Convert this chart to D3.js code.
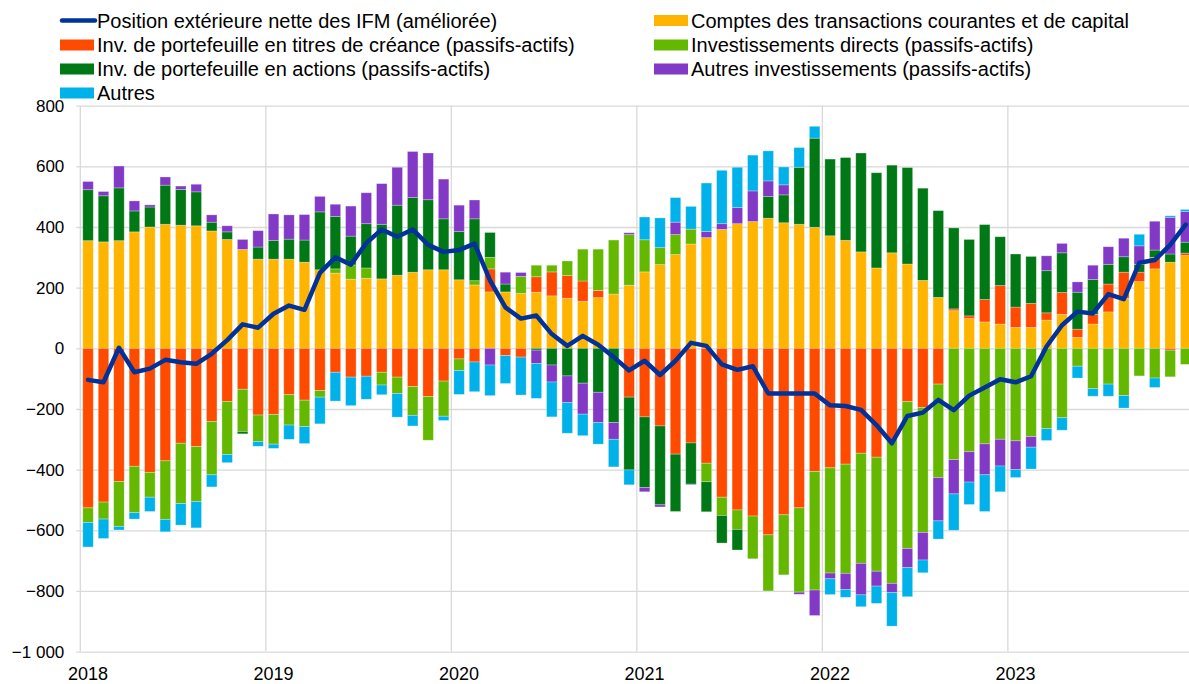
<!DOCTYPE html>
<html>
<head>
<meta charset="utf-8">
<script src="https://cdn.jsdelivr.net/npm/d3@7"></script>
<style>
    body { margin: 0; background: #fff; }
    #chart text { font-family: "Liberation Sans", Arial, sans-serif; fill: #000; }
</style>
</head>
<body>
<div id="chart"></div>
<script>

// months Jan 2018 - Dec 2023
const years = ['2018', '2019', '2020', '2021', '2022', '2023'];
const months = [];
years.forEach(y => { for (let m = 1; m <= 12; m++) months.push(y + '-' + String(m).padStart(2, '0')); });

// Comptes des transactions courantes et de capital
const currentAccount = [355, 351, 355, 384, 400, 409, 406, 404, 387, 359, 326, 294,
    294, 294, 284, 259, 248, 228, 231, 229, 241, 251, 259, 259,
    226, 209, 186, 186, 181, 185, 173, 165, 155, 167, 179, 208,
    252, 276, 309, 344, 365, 392, 411, 418, 429, 414, 409, 399,
    371, 356, 318, 265, 315, 278, 224, 168, 124, 98, 87, 80,
    69, 69, 93, 112, 36, 80, 120, 165, 220, 262, 284, 306];
// Inv. de portefeuille en titres de créance
const debtSecurities = [-526, -507, -439, -389, -409, -371, -313, -324, -241, -175, -135, -220,
    -218, -153, -171, -139, -79, -95, -92, -79, -95, -126, -159, -108,
    -35, -45, 76, -24, -29, 51, 79, 75, 67, 24, 0, -161,
    -226, -256, -349, -312, -379, -491, -533, -553, -615, -549, -526, -406,
    -394, -382, -346, -359, -302, -176, -195, -118, 6, 9, 74, 127,
    67, 79, 24, 72, 27, 32, 92, 86, 31, 38, -6, 8];
// Investissements directs
const directInv = [-48, -56, -148, -153, -82, -193, -199, -181, -176, -175, -139, -87,
    -98, -100, -87, -22, 14, 47, 34, -42, -54, -95, -144, -116,
    -38, 14, 38, 0, 56, 38, 22, 48, 105, 136, 178, 167,
    106, 56, 66, 49, -61, -60, -64, -141, -185, -198, -278, -391,
    -347, -360, -363, -376, -473, -484, -412, -308, -367, -341, -315, -300,
    -305, -291, -265, -229, -59, -133, -118, -156, -91, -98, -88, -53];
// Inv. de portefeuille en actions
const equity = [168, 152, 174, 69, 66, 129, 118, 112, 29, 25, -8, 40,
    62, 66, 73, 191, 173, 95, 146, 180, 231, 246, 231, 168,
    159, 204, 82, 26, 0, -6, -55, -91, -115, -145, -245, -240,
    -233, -260, -189, -136, -99, -91, -68, 0, 72, 92, 188, 294,
    253, 273, 326, 314, 289, 318, 304, 286, 267, 252, 247, 161,
    175, 155, 139, 131, 122, 115, 65, 51, 26, 24, 27, 36];
// Autres investissements
const otherInv = [27, 14, 72, 33, 7, 27, 11, 25, 24, 20, 33, 54,
    87, 80, 84, 51, 40, 99, 102, 134, 125, 152, 154, 131,
    87, 62, -55, 39, 13, -44, -56, -88, -102, -100, -55, 6,
    -14, -7, 41, -2, 20, 19, 53, 101, 51, 33, -7, -84,
    -19, -53, -104, -49, -30, -63, -91, -143, -113, -100, -102, -88,
    -95, -35, 49, 31, 34, 47, 58, 61, 61, 95, 121, 101];
// Autres
const others = [-81, -64, -12, -21, -47, -41, -71, -87, -40, -27, 0, -16,
    -14, -47, -56, -88, -95, -94, -76, -32, -78, -35, 0, -14,
    -79, -98, -101, -92, -125, -115, -115, -101, -71, -71, -91, -49,
    75, 98, 81, 75, 160, 176, 133, 118, 99, 59, 65, 39,
    -52, -26, -39, -57, -111, -96, -42, -60, -120, -74, -121, -85,
    -26, -72, -39, -41, -39, -25, -40, -41, 38, -31, 5, 7];
// Position extérieure nette des IFM (améliorée)
const mfiPosition = [-104, -112, 2, -79, -67, -38, -46, -51, -18, 27, 79, 68,
    114, 141, 127, 249, 300, 276, 347, 392, 368, 392, 341, 318,
    324, 345, 224, 135, 98, 108, 47, 8, 41, 12, -29, -73,
    -41, -88, -41, 18, 8, -53, -71, -59, -149, -149, -149, -149,
    -188, -190, -203, -253, -313, -223, -212, -170, -204, -156, -129, -102,
    -112, -92, 6, 76, 121, 115, 179, 162, 282, 291, 341, 408];

const yTicks = [800, 600, 400, 200, 0, -200, -400, -600, -800, -1000];

const seriesKeys = ['ca', 'debt', 'fdi', 'eq', 'oth', 'aut'];
const seriesLabels = {
    ca: 'Comptes des transactions courantes et de capital',
    debt: 'Inv. de portefeuille en titres de créance (passifs-actifs)',
    fdi: 'Investissements directs (passifs-actifs)',
    eq: 'Inv. de portefeuille en actions (passifs-actifs)',
    oth: 'Autres investissements (passifs-actifs)',
    aut: 'Autres'
};
const seriesColors = {
    ca: '#FFB400',
    debt: '#FF4B00',
    fdi: '#65B800',
    eq: '#007816',
    oth: '#8139C6',
    aut: '#00B1EA'
};
const lineLabel = 'Position extérieure nette des IFM (améliorée)';
const lineColor = '#003299';

class PositionChart {
    constructor(parentElement) {
        this.parentElement = parentElement;
        this.width = 1189;
        this.height = 684;
        // plot area in page pixels
        this.plot = {left: 80.3, right: 1193.4, top: 105.7, bottom: 651.6};
        this.initVis();
        this.wrangleData();
    }

    initVis() {
        let vis = this;

        vis.svg = d3.select(vis.parentElement)
            .append("svg")
            .attr("width", vis.width)
            .attr("height", vis.height);

        vis.x = d3.scaleBand()
            .domain(months)
            .range([vis.plot.left, vis.plot.right])
            .paddingInner(0.32)
            .paddingOuter(0.16);

        vis.y = d3.scaleLinear()
            .domain([-1000, 800])
            .range([vis.plot.bottom, vis.plot.top]);

        vis.gridG = vis.svg.append("g").attr("class", "grid");
        vis.barG = vis.svg.append("g").attr("class", "bars");
        vis.lineG = vis.svg.append("g").attr("class", "line");
        vis.axisG = vis.svg.append("g").attr("class", "axes");
        vis.legendG = vis.svg.append("g").attr("class", "legend");

        vis.drawGrid();
        vis.drawLegend();
    }

    drawGrid() {
        let vis = this;
        let step = vis.x.step();

        // horizontal grid lines + y labels
        let yAxis = d3.axisLeft(vis.y)
            .tickValues(yTicks)
            .tickSize(-(vis.plot.right - vis.plot.left) - 4)
            .tickPadding(12)
            .tickFormat(d => d3.format(",")(d).replace(/,/g, " "));

        vis.gridG.append("g")
            .attr("transform", `translate(${vis.plot.left - 4},0)`)
            .call(yAxis)
            .call(g => g.select(".domain").remove())
            .call(g => g.selectAll("line").attr("stroke", "#d9d9d9").attr("stroke-width", 1.3))
            .call(g => g.selectAll("text").style("font-size", "17px").attr("fill", "#000"));

        // vertical year lines
        vis.gridG.selectAll(".year-line")
            .data(years)
            .enter()
            .append("line")
            .attr("class", "year-line")
            .attr("x1", d => vis.x(d + '-01') - (step - vis.x.bandwidth()) / 2)
            .attr("x2", d => vis.x(d + '-01') - (step - vis.x.bandwidth()) / 2)
            .attr("y1", vis.plot.top)
            .attr("y2", vis.plot.bottom)
            .attr("stroke", "#d9d9d9")
            .attr("stroke-width", 1.3);

        // year labels under the January bar
        vis.axisG.selectAll(".year-label")
            .data(years)
            .enter()
            .append("text")
            .attr("class", "year-label")
            .attr("x", d => vis.x(d + '-01') + vis.x.bandwidth() / 2)
            .attr("y", 680)
            .attr("text-anchor", "middle")
            .style("font-size", "18px")
            .text(d => d);
    }

    drawLegend() {
        let vis = this;

        let items = [
            {key: 'line', label: lineLabel, col: 0, row: 0},
            {key: 'debt', label: seriesLabels.debt, col: 0, row: 1},
            {key: 'eq', label: seriesLabels.eq, col: 0, row: 2},
            {key: 'aut', label: seriesLabels.aut, col: 0, row: 3},
            {key: 'ca', label: seriesLabels.ca, col: 1, row: 0},
            {key: 'fdi', label: seriesLabels.fdi, col: 1, row: 1},
            {key: 'oth', label: seriesLabels.oth, col: 1, row: 2}
        ];
        let colX = [60, 654];
        let rowY = [20.5, 45, 69, 93];

        let g = vis.legendG.selectAll(".legend-item")
            .data(items)
            .enter()
            .append("g")
            .attr("class", "legend-item")
            .attr("transform", d => `translate(${colX[d.col]},${rowY[d.row]})`);

        g.filter(d => d.key === 'line')
            .append("line")
            .attr("x1", 2).attr("x2", 35)
            .attr("y1", 0).attr("y2", 0)
            .attr("stroke", lineColor)
            .attr("stroke-width", 4.5)
            .attr("stroke-linecap", "round");

        g.filter(d => d.key !== 'line')
            .append("rect")
            .attr("x", 0).attr("y", -5.5)
            .attr("width", 34).attr("height", 11)
            .attr("fill", d => seriesColors[d.key]);

        g.append("text")
            .attr("x", 37)
            .attr("y", 7)
            .style("font-size", "20px")
            .text(d => d.label);
    }

    wrangleData() {
        let vis = this;

        vis.table = months.map((m, i) => ({
            month: m,
            ca: currentAccount[i],
            debt: debtSecurities[i],
            fdi: directInv[i],
            eq: equity[i],
            oth: otherInv[i],
            aut: others[i],
            pos: mfiPosition[i]
        }));

        vis.stacked = d3.stack()
            .keys(seriesKeys)
            .offset(d3.stackOffsetDiverging)(vis.table);

        vis.updateVis();
    }

    updateVis() {
        let vis = this;

        let layers = vis.barG.selectAll(".layer")
            .data(vis.stacked)
            .enter()
            .append("g")
            .attr("class", "layer")
            .attr("fill", d => seriesColors[d.key]);

        layers.selectAll("rect")
            .data(d => d.filter(s => s[1] !== s[0]))
            .enter()
            .append("rect")
            .attr("x", d => vis.x(d.data.month))
            .attr("width", vis.x.bandwidth())
            .attr("y", d => vis.y(Math.max(d[0], d[1])))
            .attr("height", d => Math.abs(vis.y(d[0]) - vis.y(d[1])))
            .attr("stroke", "#ffffff")
            .attr("stroke-opacity", 0.35)
            .attr("stroke-width", 0.8);

        let line = d3.line()
            .x(d => vis.x(d.month) + vis.x.bandwidth() / 2)
            .y(d => vis.y(d.pos));

        vis.lineG.append("path")
            .datum(vis.table)
            .attr("d", line)
            .attr("fill", "none")
            .attr("stroke", lineColor)
            .attr("stroke-width", 4.5)
            .attr("stroke-linejoin", "round")
            .attr("stroke-linecap", "round");
    }
}

let positionChart = new PositionChart('#chart');
</script>
</body>
</html>
